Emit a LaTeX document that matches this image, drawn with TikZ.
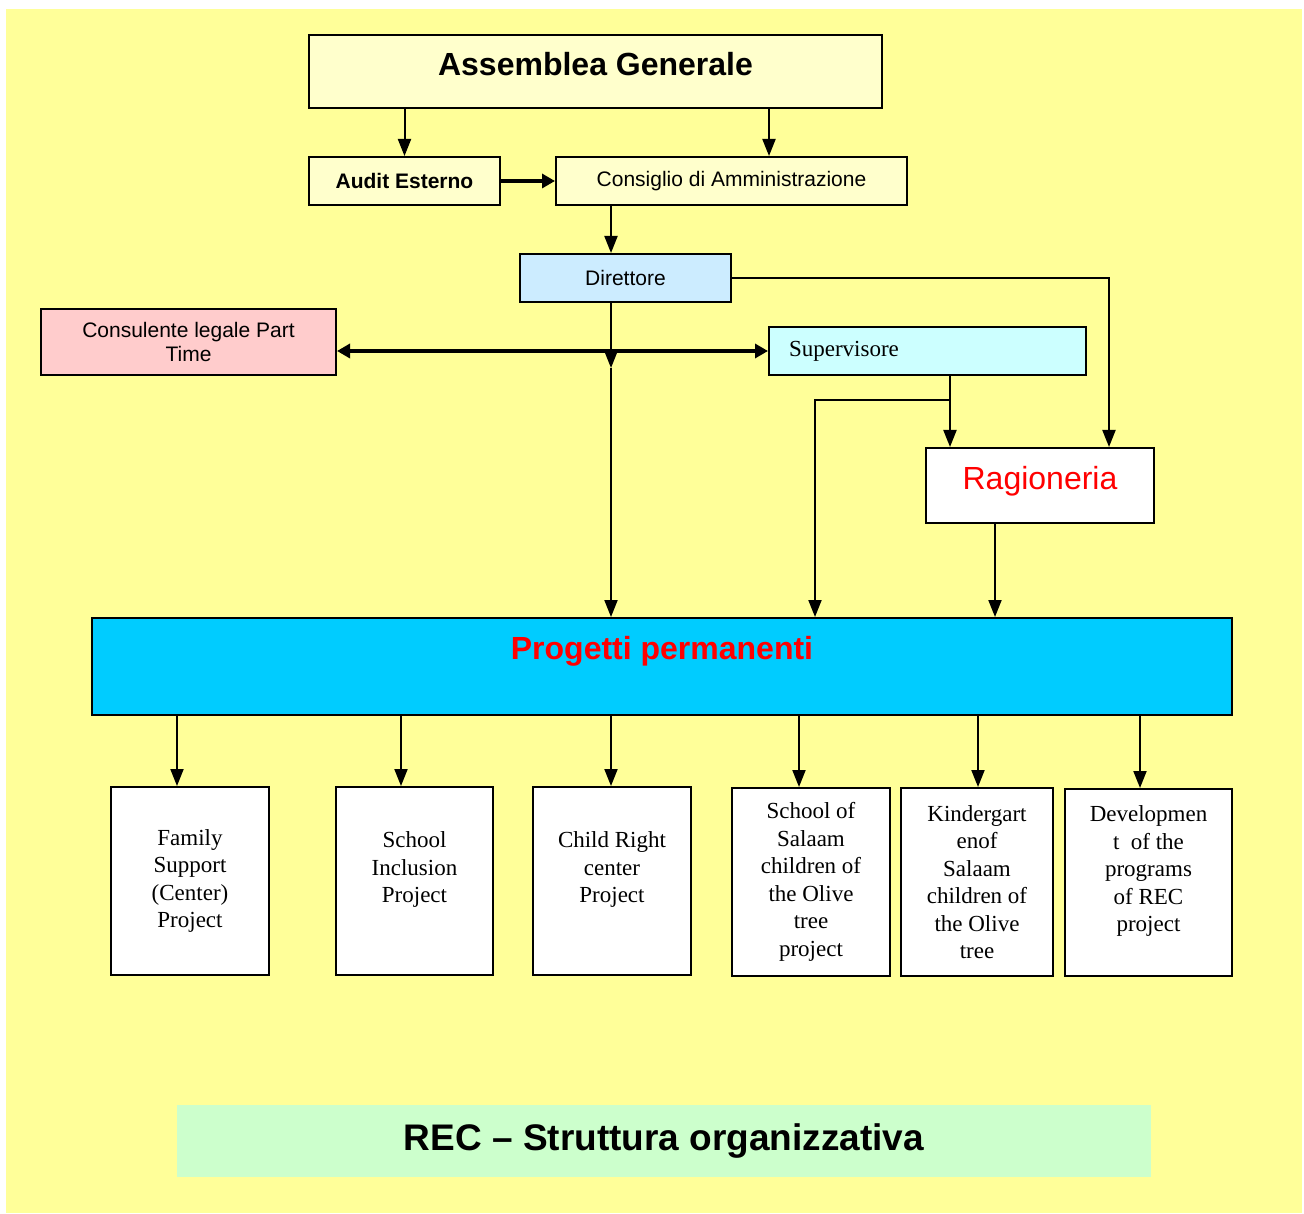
\documentclass[tikz,border=0pt]{standalone}
\usepackage{fontspec}
\setmainfont{Liberation Serif}
\setsansfont{Liberation Sans}
\usetikzlibrary{arrows.meta,positioning}

\definecolor{bgyellow}{HTML}{FFFF99}
\definecolor{paleyellow}{HTML}{FFFFCC}
\definecolor{dirblue}{HTML}{CCECFF}
\definecolor{legalpink}{HTML}{FFCCCC}
\definecolor{supcyan}{HTML}{CCFFFF}
\definecolor{progblue}{HTML}{00CCFF}
\definecolor{titlegreen}{HTML}{CCFFCC}

\begin{document}
\begin{tikzpicture}[x=1pt, y=-1pt,
  box/.style={draw, line width=2pt, inner sep=0pt},
  arr/.style={line width=2pt, -{Triangle[length=17pt, width=13pt]}},
  arrthick/.style={line width=3.5pt, -{Triangle[length=13pt, width=14pt]}},
  dblthick/.style={line width=3.5pt, {Triangle[length=13pt, width=14pt]}-{Triangle[length=13pt, width=14pt]}},
  project/.style={box, fill=white, align=center, font=\fontsize{23}{27.5}\selectfont}]

\newcommand\BIGSANS{\sffamily\fontsize{32}{36}\selectfont}
\newcommand\MIDSANS{\sffamily\fontsize{21}{23.5}\selectfont}

\useasboundingbox (0,0) rectangle (1304,1214);
%% background
\fill[bgyellow] (6,9) rectangle (1302,1213);

%% governance
\node[box, fill=paleyellow, minimum width=573pt, minimum height=73pt,
  label={[anchor=base, yshift=-42pt, font=\BIGSANS\bfseries]north:Assemblea Generale}]
  (ag) at (595.5,71.5) {};
\node[box, fill=paleyellow, minimum width=191pt, minimum height=48pt, font=\MIDSANS\bfseries]
  (audit) at (404.5,181) {Audit Esterno};
\node[box, fill=paleyellow, minimum width=351pt, minimum height=48pt, font=\MIDSANS]
  (cda) at (731.5,181) {Consiglio di Amministrazione};

\draw[arr] (audit.north |- ag.south) -- (audit.north);
\draw[arr] ([xshift=37.5pt]cda.north |- ag.south) -- ([xshift=37.5pt]cda.north);
\draw[arrthick] (audit) -- (cda);

%% direction
\node[box, fill=dirblue, minimum width=211pt, minimum height=48pt, font=\MIDSANS]
  (dir) at (625.5,278) {Direttore};
\draw[arr] ([xshift=-14.5pt]dir.north |- cda.south) -- ([xshift=-14.5pt]dir.north);

\node[box, fill=legalpink, minimum width=295pt, minimum height=66pt, align=center, font=\MIDSANS]
  (cons) at (188.5,342) {Consulente legale Part\\Time};
\node[box, fill=supcyan, minimum width=317pt, minimum height=48pt, inner xsep=20pt,
  text width=277pt, align=left, font=\fontsize{23}{27}\selectfont]
  (sup) at (927.5,351) {Supervisore};
\node[box, fill=white, minimum width=228pt, minimum height=75pt,
  label={[anchor=base, yshift=-42pt, font=\BIGSANS, text=red]north:Ragioneria}]
  (rag) at (1040,485.5) {};

%% permanent projects
\node[box, fill=progblue, minimum width=1140pt, minimum height=97pt,
  label={[anchor=base, yshift=-42pt, font=\BIGSANS\bfseries, text=red]north:Progetti permanenti}]
  (prog) at (662,666.5) {};

\coordinate (cross) at (611,368);
\coordinate (split) at (950,400);
\coordinate (bend) at (815,400);

\draw[dblthick] (cons.east |- sup.west) -- (sup.west);
\draw[arr] ([xshift=-14.5pt]dir.south) -- (cross);
\draw[arr] (cross) -- (cross |- prog.north);
\draw[arr] (dir.east) -| ([xshift=69pt]rag.north);
\draw[arr] (sup.south -| split) -- ([xshift=-90pt]rag.north);
\draw[arr] (split) -- (bend) -- (bend |- prog.north);
\draw[arr] ([xshift=-45pt]rag.south) -- ([xshift=-45pt]rag.south |- prog.north);

\node[project, minimum width=158pt, minimum height=188pt] (p1) at (190,881)
  {Family\\Support\\ (Center)\\Project};
\node[project, minimum width=157pt, minimum height=188pt] (p2) at (414.5,881)
  {School\\Inclusion\\Project\\~};
\node[project, minimum width=158pt, minimum height=188pt] (p3) at (612,881)
  {Child Right\\center\\Project\\~};
\node[project, minimum width=158pt, minimum height=188pt] (p4) at (811,882)
  {School of\\Salaam\\children of\\the Olive\\tree\\project};
\node[project, minimum width=152pt, minimum height=188pt] (p5) at (977,882)
  {Kindergart\\enof\\Salaam\\children of\\the Olive\\tree};
\node[project, minimum width=167pt, minimum height=187pt] (p6) at (1148.5,882.5)
  {Developmen\\t\ \ of the\\programs\\of REC\\project\\~};

\foreach \p/\dx in {p1/-13, p2/-13.5, p3/-1, p4/-12, p5/1, p6/-8.5}
  \draw[arr] ([xshift=\dx pt]\p.north |- prog.south) -- ([xshift=\dx pt]\p.north);

%% title
\node[fill=titlegreen, minimum width=974pt, minimum height=72pt,
  font=\sffamily\bfseries\fontsize{37}{40}\selectfont]
  (title) at (664,1141) {REC – Struttura organizzativa};
\end{tikzpicture}
\end{document}
